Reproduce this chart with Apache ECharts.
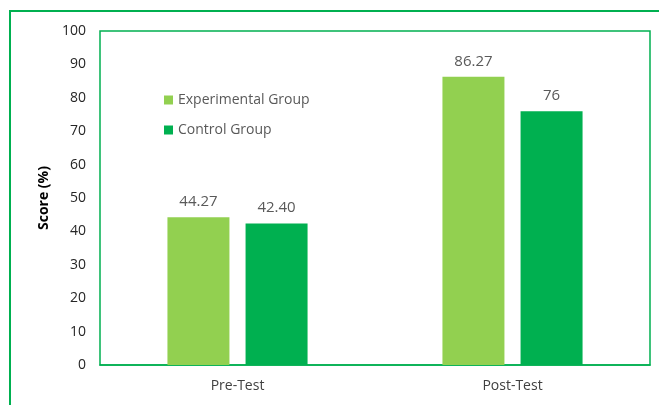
<!DOCTYPE html>
<html>
<head>
<meta charset="utf-8">
<script src="https://cdn.jsdelivr.net/npm/echarts@6/dist/echarts.min.js"></script>
<style>
  html, body { margin: 0; padding: 0; background: #fff; }
  #chart { width: 659px; height: 405px; }
</style>
</head>
<body>
<div id="chart"></div>
<script>
// data
var categories = ['Pre-Test', 'Post-Test'];
var experimental = [44.27, 86.27];
var control = [42.40, 76];
var expLabels = ['44.27', '86.27'];
var ctrlLabels = ['42.40', '76'];

var myChart = echarts.init(document.getElementById('chart'));
var font = '"Open Sans", "Noto Sans", sans-serif';

var option = {
  animation: false,
  textStyle: { fontFamily: font },
  graphic: [{
    type: 'rect',
    shape: { x: 10, y: 11, width: 662, height: 410 },
    style: { fill: 'none', stroke: '#00B050', lineWidth: 2 }
  }],
  grid: {
    left: 100, top: 31, right: 9, bottom: 40,
    show: true,
    borderColor: '#00B050',
    borderWidth: 1.5
  },
  legend: {
    orient: 'vertical',
    left: 159, top: 88,
    itemWidth: 9, itemHeight: 9, itemGap: 16,
    icon: 'rect',
    textStyle: { color: '#595959', fontSize: 14, fontFamily: font },
    data: ['Experimental Group', 'Control Group']
  },
  xAxis: {
    type: 'category',
    data: categories,
    axisLine: { show: true, lineStyle: { color: '#00B050', width: 1.5 } },
    axisTick: { show: false },
    axisLabel: { color: '#404040', fontSize: 14, margin: 14 }
  },
  yAxis: {
    type: 'value',
    min: 0, max: 100, interval: 10,
    name: 'Score (%)',
    nameLocation: 'middle',
    nameGap: 46,
    nameTextStyle: { color: '#000', fontWeight: 'bold', fontSize: 14 },
    axisLine: { show: false },
    axisTick: { show: false },
    splitLine: { show: false },
    axisLabel: { color: '#262626', fontSize: 14, margin: 14 }
  },
  series: [
    {
      name: 'Experimental Group',
      type: 'bar',
      data: experimental,
      barWidth: 62,
      barGap: '26%',
      itemStyle: { color: '#92D050' },
      label: {
        show: true, position: 'top', distance: 8,
        color: '#595959', fontSize: 15,
        formatter: function (p) { return expLabels[p.dataIndex]; }
      }
    },
    {
      name: 'Control Group',
      type: 'bar',
      data: control,
      barWidth: 62,
      itemStyle: { color: '#00B050' },
      label: {
        show: true, position: 'top', distance: 8,
        color: '#595959', fontSize: 15,
        formatter: function (p) { return ctrlLabels[p.dataIndex]; }
      }
    }
  ]
};
myChart.setOption(option);
</script>
</body>
</html>
